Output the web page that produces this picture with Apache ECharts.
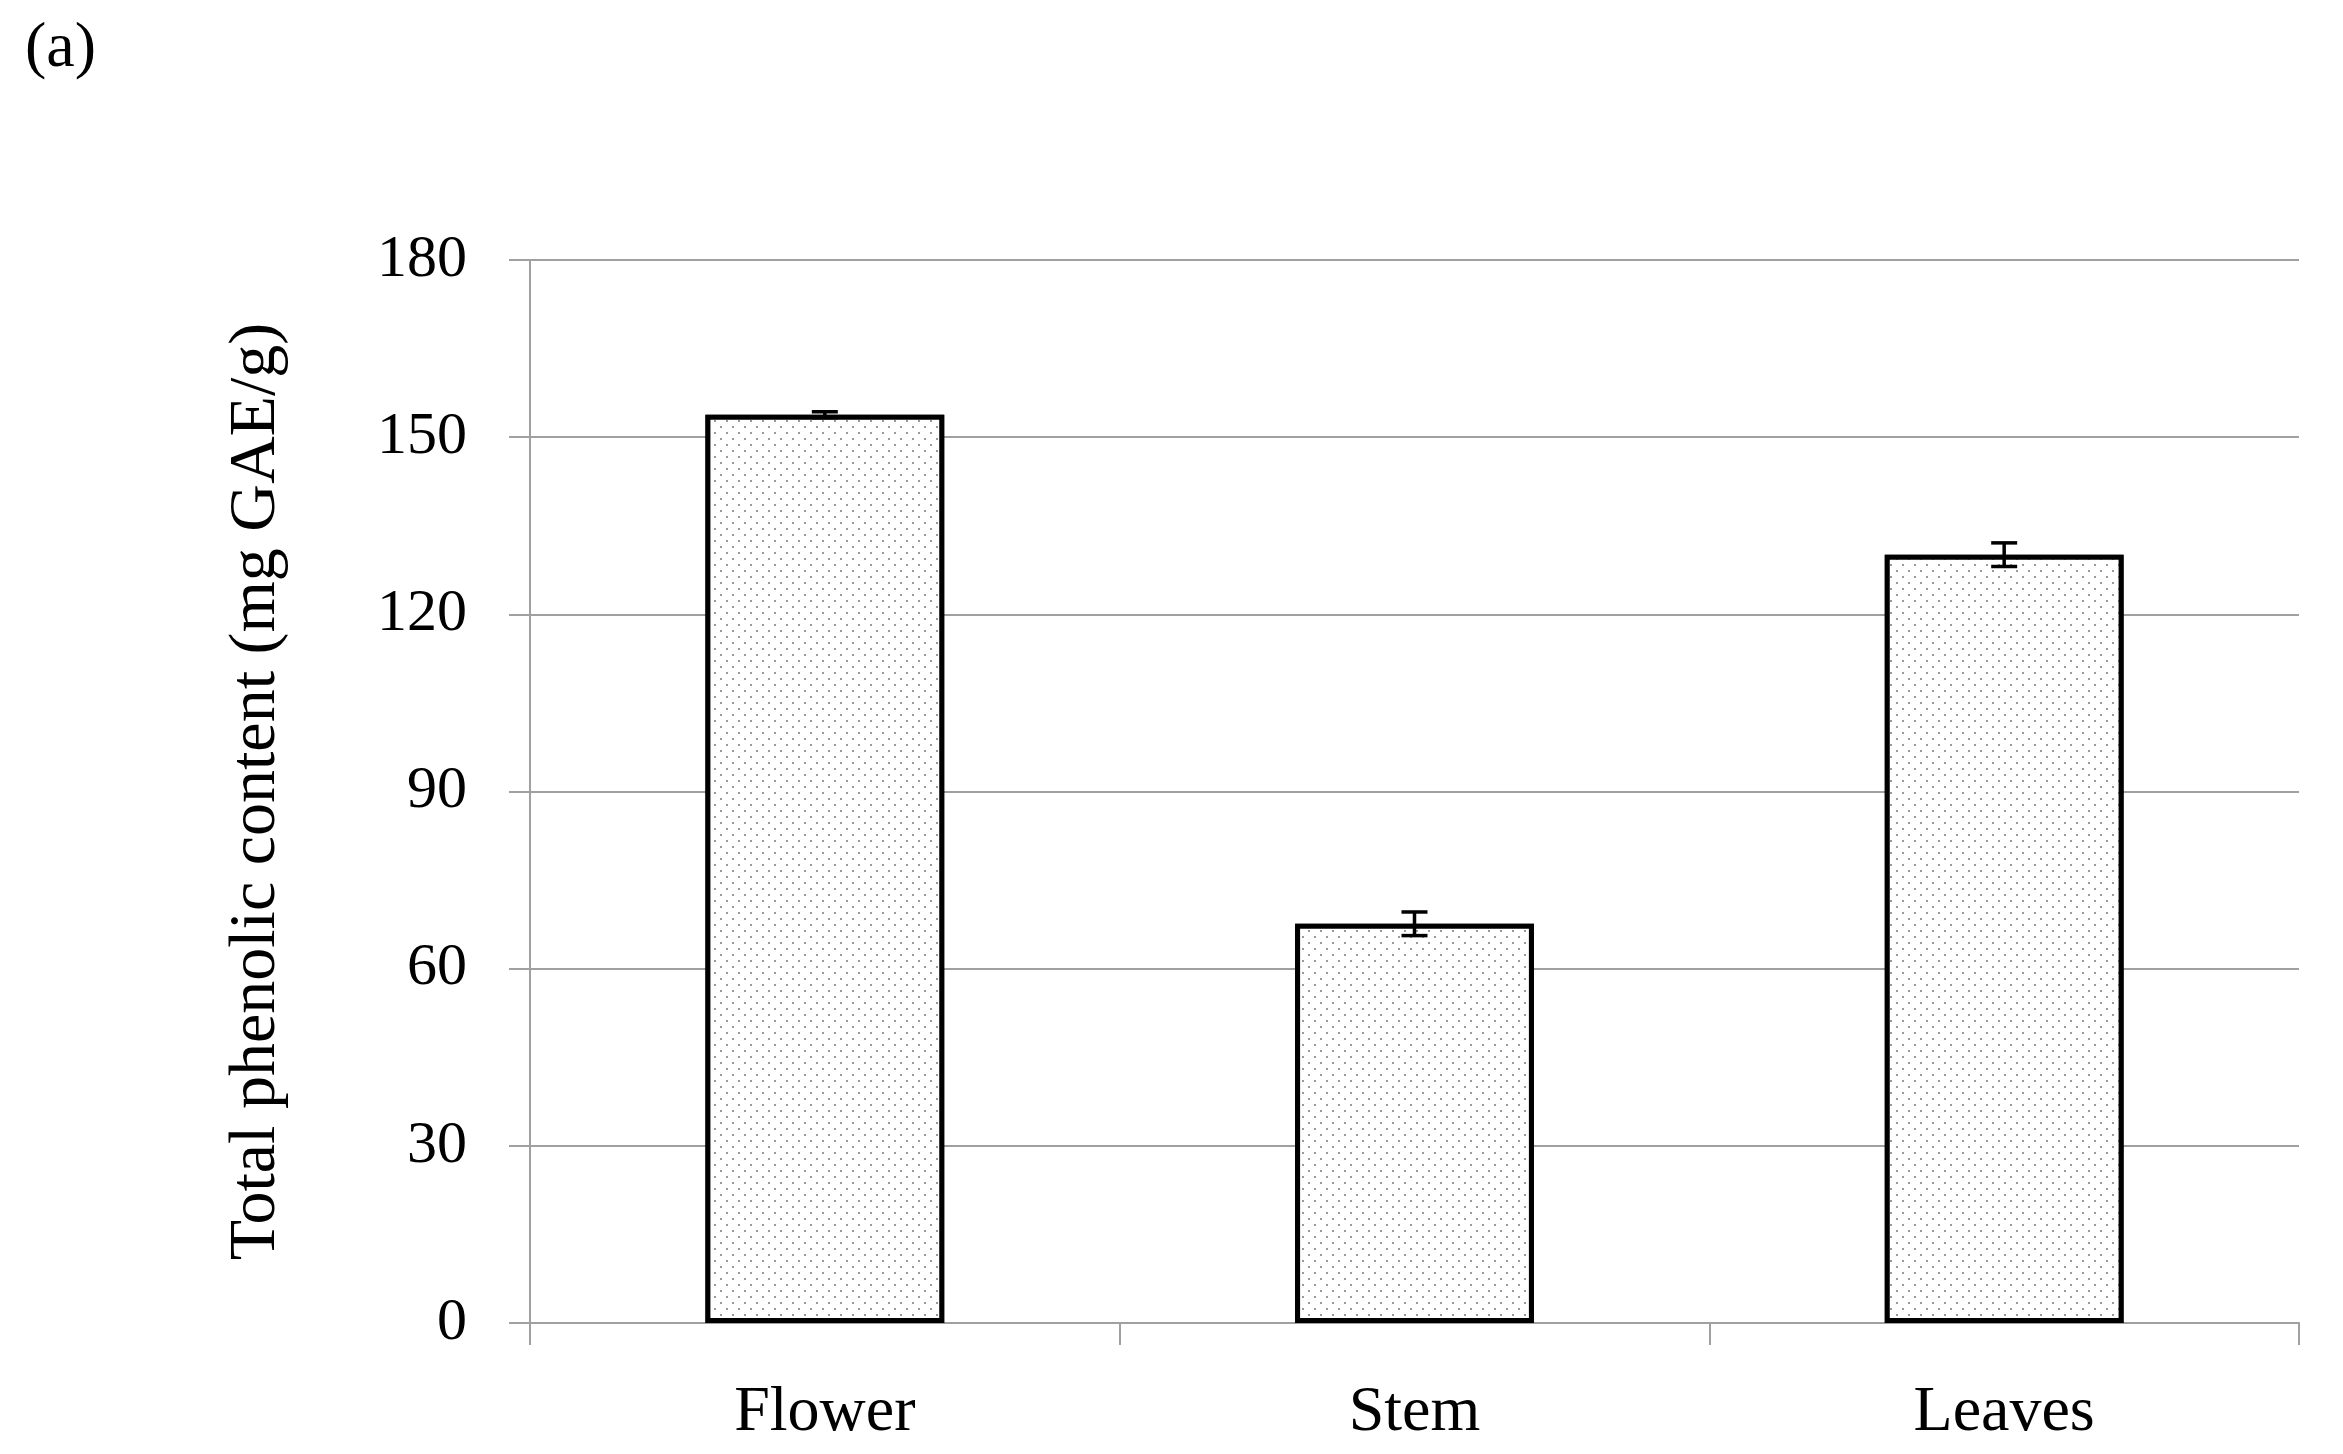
<!DOCTYPE html>
<html>
<head>
<meta charset="utf-8">
<script src="https://cdn.jsdelivr.net/npm/echarts@6/dist/echarts.min.js"></script>
<style>
html,body{margin:0;padding:0;background:#fff;}
#chart{width:2343px;height:1454px;}
</style>
</head>
<body>
<div id="chart"></div>
<script>
// 数据
var categories = ['Flower', 'Stem', 'Leaves'];
var phenolic = [153.8, 67.6, 130.1];
var errors = [0.5, 2.0, 2.0];
var yMin = 0, yMax = 180, yStep = 30;

var serif = '"Liberation Serif", "DejaVu Serif", serif';

var myChart = echarts.init(document.getElementById('chart'));

// 误差线
var errData = [];
for (var i = 0; i < categories.length; i++) {
	errData.push([i, phenolic[i] - errors[i], phenolic[i] + errors[i]]);
}

function renderErr(params, api) {
	var lo = api.coord([api.value(0), api.value(1)]);
	var hi = api.coord([api.value(0), api.value(2)]);
	var half = 13;
	var st = { stroke: '#000', lineWidth: 3.5 };
	return {
		type: 'group',
		children: [
			{ type: 'line', shape: { x1: hi[0], y1: hi[1], x2: lo[0], y2: lo[1] }, style: st },
			{ type: 'line', shape: { x1: hi[0] - half, y1: hi[1], x2: hi[0] + half, y2: hi[1] }, style: st },
			{ type: 'line', shape: { x1: lo[0] - half, y1: lo[1], x2: lo[0] + half, y2: lo[1] }, style: st }
		]
	};
}

var option = {
	backgroundColor: '#fff',
	animation: false,
	title: {
		text: '(a)',
		left: 20,
		top: 12,
		textStyle: { fontFamily: serif, fontSize: 64, fontWeight: 'normal', color: '#000' }
	},
	grid: { left: 530, right: 44, top: 260, bottom: 131 },
	xAxis: {
		type: 'category',
		data: categories,
		axisLine: { lineStyle: { color: '#a0a0a0', width: 2 } },
		axisTick: { show: true, length: 22, lineStyle: { color: '#a0a0a0', width: 2 } },
		axisLabel: { fontFamily: serif, fontSize: 64, color: '#000', margin: 58 },
		splitLine: { show: false }
	},
	yAxis: {
		type: 'value',
		min: yMin,
		max: yMax,
		interval: yStep,
		name: 'Total phenolic content (mg GAE/g)',
		nameLocation: 'middle',
		nameGap: 240,
		nameTextStyle: { fontFamily: serif, fontSize: 66, color: '#000' },
		axisLine: { show: true, lineStyle: { color: '#a0a0a0', width: 2 } },
		axisTick: { show: true, length: 21, lineStyle: { color: '#a0a0a0', width: 2 } },
		axisLabel: { fontFamily: serif, fontSize: 60, color: '#000', margin: 63 },
		splitLine: { show: true, lineStyle: { color: '#a0a0a0', width: 2 } }
	},
	series: [
		{
			name: 'TPC',
			type: 'bar',
			data: phenolic,
			barWidth: '40.5%',
			itemStyle: {
				color: '#fff',
				borderColor: '#000',
				borderWidth: 5,
				decal: {
					symbol: 'rect',
					symbolSize: 1,
					color: '#9a9a9a',
					backgroundColor: '#fff',
					dashArrayX: [[2, 10], [0, 6, 2, 4]],
					dashArrayY: [2, 4],
					rotation: 0
				}
			},
			z: 2
		},
		{
			name: 'err',
			type: 'custom',
			renderItem: renderErr,
			data: errData,
			encode: { x: 0, y: [1, 2] },
			z: 3
		}
	]
};
myChart.setOption(option);
</script>
</body>
</html>
